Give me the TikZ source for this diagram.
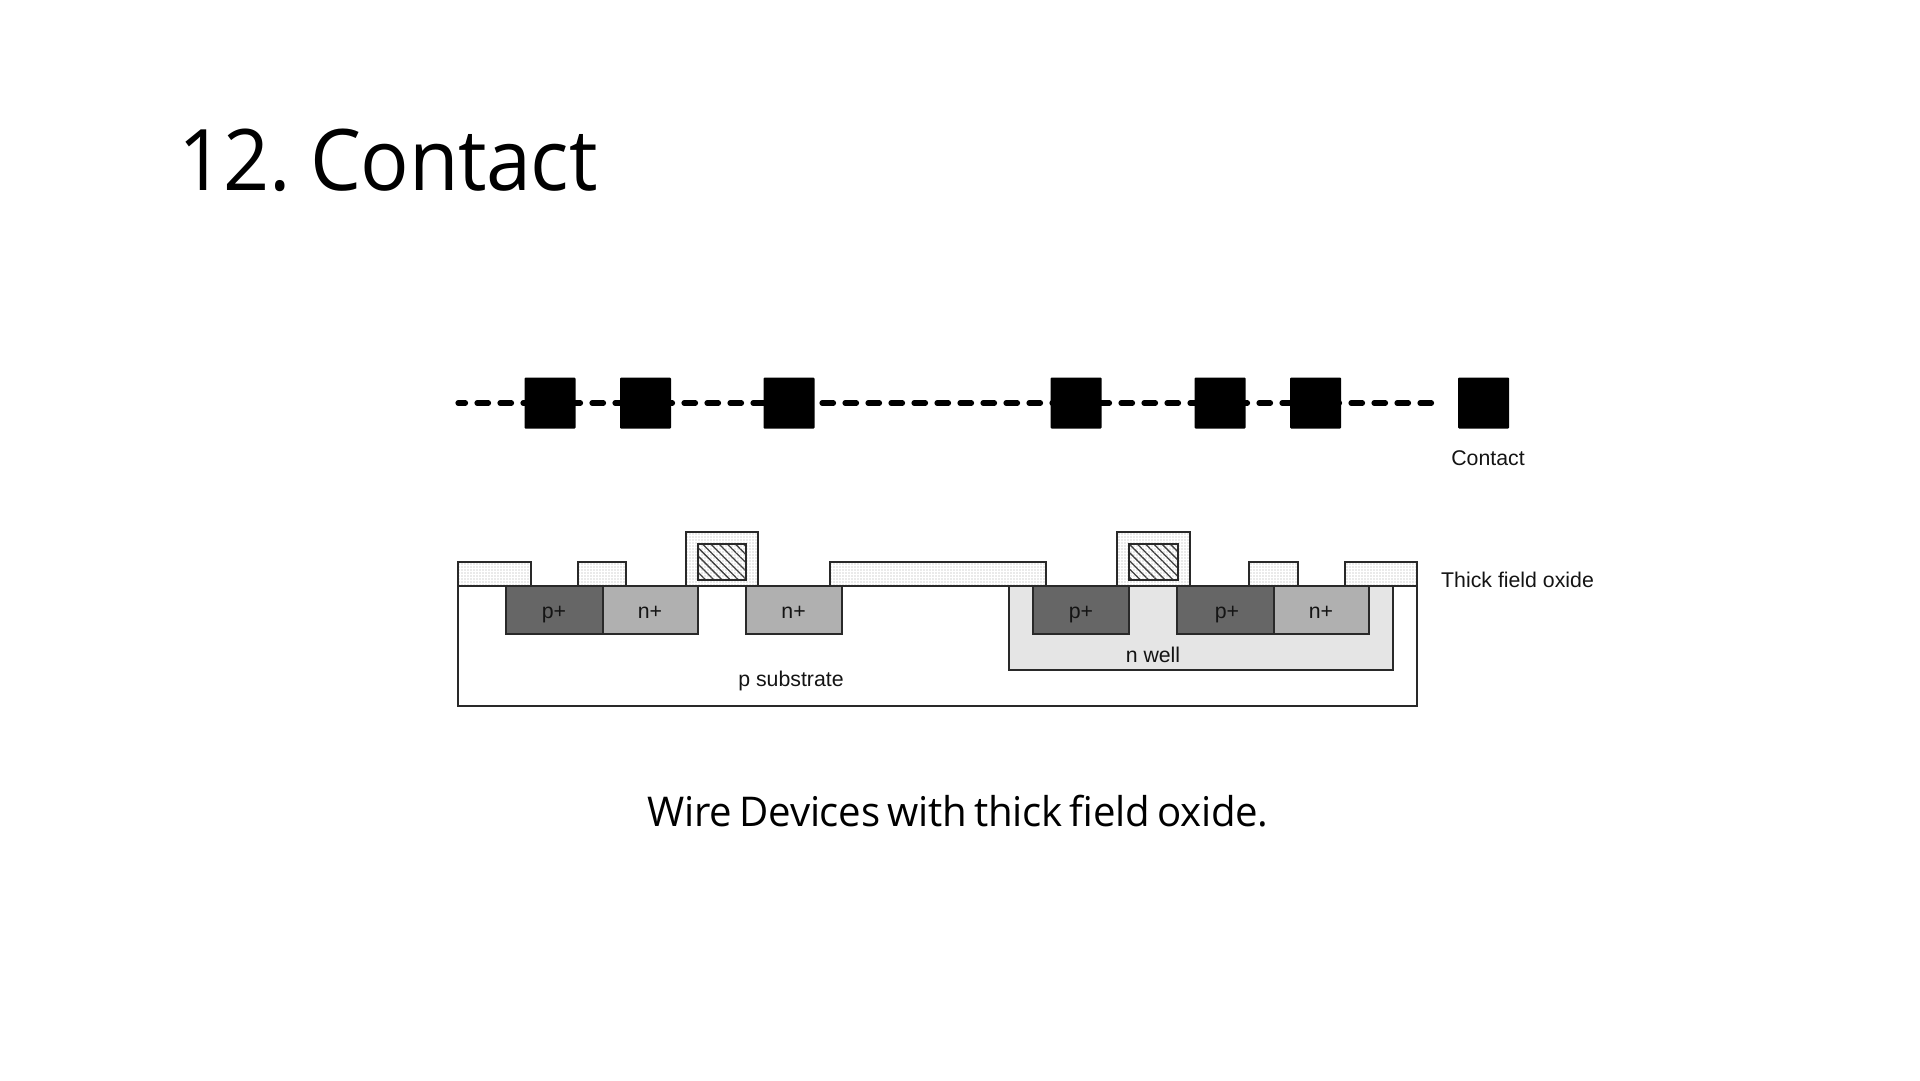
\documentclass[tikz,border=0pt]{standalone}
\usepackage{fontspec}
\setmainfont{Open Sans}
\newfontfamily\titlefont[FakeStretch=0.95, LetterSpace=-0.5, WordSpace=0.6]{Open Sans}
\newfontfamily\captionfont[FakeStretch=0.98, LetterSpace=-0.6, WordSpace=0.7]{Open Sans}
\newfontfamily\labelfont{Liberation Sans}
\usetikzlibrary{patterns.meta}
\definecolor{pdark}{gray}{0.40}
\definecolor{nlight}{gray}{0.69}
\definecolor{wellgray}{gray}{0.90}
\definecolor{edgegray}{gray}{0.16}
\tikzset{
  region/.style={draw=edgegray, line width=2pt},
  oxide/.style={region, pattern={Dots[distance=3pt, radius=0.6pt]}, pattern color=black!36},
  poly/.style={region, pattern={Lines[angle=-45, distance=5.8pt, line width=1.3pt]}, pattern color=black!75},
  cut/.style={fill=black, minimum size=51pt, inner sep=0pt, rounded corners=1pt},
  lbl/.style={font=\labelfont\fontsize{21.3}{25}\selectfont, text=black!92, inner sep=0pt}
}
\begin{document}
\begin{tikzpicture}[x=1pt, y=-1pt]
  \useasboundingbox (0,0) rectangle (1920,1080);
  \node[anchor=base west, inner sep=0pt, font=\titlefont\fontsize{85}{100}\selectfont] (title) at (178,190) {12. Contact};
  \node[anchor=base, inner sep=0pt, font=\captionfont\fontsize{41}{50}\selectfont] (caption) at (958,826.5) {Wire Devices with thick field oxide.};

  % contact mask
  \coordinate (linestart) at (458,403);
  \coordinate (lineend) at (1432,403);
  \draw[line width=5.2pt, line cap=round, dash pattern=on 11.5pt off 11.5pt, dash phase=4pt] (linestart) -- (lineend);
  \foreach \x/\xname in {550/a, 645.5/b, 789/c, 1076/d, 1220/e, 1315.5/f, 1483.5/key}
    \node[cut] (cut\xname) at (\x,403) {};
  \node[lbl, anchor=base] (contactlabel) at (1488,465) {Contact};

  % cross section
  \draw[region, fill=white] (458,586) rectangle (1417,706);
  \draw[region, fill=wellgray] (1009,586) rectangle (1393,670);
  \foreach \xa/\xb in {506/602.5, 1032.7/1129.4, 1176.7/1273.5}
    \draw[region, fill=pdark] (\xa,586) rectangle (\xb,634);
  \foreach \xa/\xb in {602.5/698, 745.7/842, 1273.5/1369.4}
    \draw[region, fill=nlight] (\xa,586) rectangle (\xb,634);
  \foreach \xa/\xb in {458/530.7, 578/626.4, 829.6/1045.7, 1249/1297.6, 1345/1417}
    \draw[oxide] (\xa,561.5) rectangle (\xb,586);
  \foreach \xa/\xb in {685.7/758, 1117/1190}
    \draw[oxide] (\xa,531.5) rectangle (\xb,586);
  \foreach \xa/\xb in {698/746.4, 1129/1177.6}
    \draw[poly] (\xa,543.7) rectangle (\xb,580);

  \foreach \x/\xtext in {554/p+, 650/n+, 793.6/n+, 1081/p+, 1227/p+, 1321/n+}
    \node[lbl, anchor=base] at (\x,618) {\xtext};
  \node[lbl, anchor=base] (substrate) at (791,686) {p substrate};
  \node[lbl, anchor=base] (well) at (1153,662) {n well};
  \node[lbl, anchor=base west] (oxidelabel) at (1441,587) {Thick field oxide};
\end{tikzpicture}
\end{document}
